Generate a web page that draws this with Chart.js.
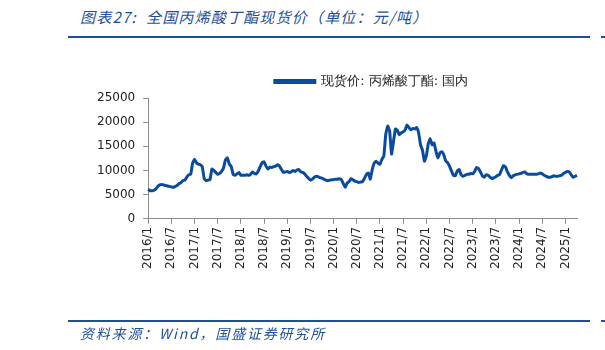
<!DOCTYPE html>
<html>
<head>
<meta charset="utf-8">
<script src="https://cdn.jsdelivr.net/npm/chart.js@4.4.1/dist/chart.umd.min.js"></script>
<style>
  body { margin: 0; background: #fff; }
  #wrap { position: relative; width: 605px; height: 350px; overflow: hidden; }
  #chart { position: absolute; left: 0; top: 0; }
  .title { position: absolute; left: 80px; top: 6px; font: italic 15px "Noto Sans CJK SC", sans-serif; letter-spacing: 1.2px; color: #1d4f9c; white-space: nowrap; }
  .source { position: absolute; left: 80px; top: 323px; font: italic 14px "Noto Sans CJK SC", sans-serif; letter-spacing: 1.8px; color: #1d4f9c; white-space: nowrap; }
  .rule { position: absolute; height: 2px; background: #1d4f9c; }
</style>
</head>
<body>
<div id="wrap">
  <div class="title">图表27:&nbsp;&nbsp;全国丙烯酸丁酯现货价（单位：元/吨）</div>
  <div class="rule" style="left:68px; top:36px; width:522px;"></div>
  <div class="rule" style="left:601px; top:36px; width:4px;"></div>
  <canvas id="chart" width="605" height="350"></canvas>
  <div class="rule" style="left:68px; top:320px; width:522px;"></div>
  <div class="rule" style="left:601px; top:320px; width:4px;"></div>
  <div class="source">资料来源：Wind，国盛证券研究所</div>
</div>

<script>
// spot price, yuan/ton, twice a month (1st and 16th)
const price2016 = [6100, 5800, 5800, 5900, 6200, 6700, 7000, 7100, 7000, 6900, 6800, 6700,
                   6600, 6500, 6700, 6900, 7300, 7500, 7900, 8000, 8600, 9100, 9200, 11500];
const price2017 = [12300, 11600, 11300, 11200, 10800, 8300, 7900, 8000, 8100, 10300, 10000, 9600,
                   9200, 9400, 9800, 10500, 12200, 12600, 11300, 10800, 9200, 9000, 9300, 9600];
const price2018 = [9000, 9000, 9000, 9100, 9000, 9200, 9700, 9400, 9300, 9900, 10800, 11600,
                   11800, 10900, 10300, 10700, 10600, 10800, 10900, 11200, 10900, 10200, 9600, 9700];
const price2019 = [9800, 9600, 9700, 10000, 9800, 10100, 10200, 9700, 9600, 9300, 8800, 8400,
                   8000, 8200, 8600, 8800, 8700, 8500, 8400, 8200, 8000, 7900, 8000, 8100];
const price2020 = [8100, 8200, 8200, 8300, 8100, 7300, 6500, 7400, 7700, 8300, 8100, 7800,
                   7700, 7500, 7600, 7700, 8400, 9200, 9500, 8200, 10200, 11500, 11900, 11500];
const price2021 = [11300, 12300, 13000, 17500, 19200, 18200, 13400, 16000, 18600, 18300, 17400, 17800,
                   18000, 18400, 19400, 18900, 18400, 18700, 18600, 18900, 17800, 15300, 14200, 11900];
const price2022 = [13000, 15500, 16600, 15300, 15700, 13900, 12600, 13600, 13900, 13300, 12000, 11600,
                   10900, 9900, 9000, 8900, 9900, 10200, 9100, 8800, 9000, 9200, 9200, 9400];
const price2023 = [9300, 9800, 10600, 10400, 9700, 8900, 8600, 9100, 9000, 8600, 8300, 8500,
                   8700, 9000, 9200, 10200, 11000, 10700, 9700, 9000, 8500, 8900, 9100, 9200];
const price2024 = [9300, 9400, 9600, 9700, 9300, 9200, 9200, 9200, 9200, 9200, 9300, 9500,
                   9300, 9000, 8800, 8600, 8600, 8700, 8900, 8800, 8800, 8900, 9000, 9400];
const price2025 = [9600, 9800, 9700, 9100, 8600, 8800, 9000];

const yTicks = [0, 5000, 10000, 15000, 20000, 25000];
const seriesName = '现货价: 丙烯酸丁酯: 国内';

const prices = [].concat(price2016, price2017, price2018, price2019, price2020,
                         price2021, price2022, price2023, price2024, price2025);

// date labels, two per month starting 2016/1/1
const dates = prices.map((v, i) => {
  const m = Math.floor(i / 2);
  const year = 2016 + Math.floor(m / 12);
  const month = (m % 12) + 1;
  return year + '/' + month + '/' + (i % 2 === 0 ? 1 : 16);
});

const axisColor = '#8c8c8c';
const font = { family: '"DejaVu Sans", sans-serif', size: 12 };

// nudge the legend a little to the right of the plot centre
const legendShift = {
  id: 'legendShift',
  afterLayout(chart) {
    chart.legend.left += 9;
    chart.legend.right += 9;
  }
};

new Chart(document.getElementById('chart'), {
  type: 'line',
  data: {
    labels: dates,
    datasets: [{
      label: seriesName,
      data: prices,
      borderColor: '#0a4ba0',
      backgroundColor: '#0a4ba0',
      borderWidth: 3,
      pointRadius: 0,
      tension: 0.1
    }]
  },
  plugins: [legendShift],
  options: {
    responsive: false,
    animation: false,
    layout: { padding: { left: 89, right: 28, top: 69, bottom: 78 } },
    plugins: {
      tooltip: { enabled: false },
      legend: {
        position: 'top',
        fullSize: false,
        labels: {
          font: { family: font.family, size: 13 },
          color: '#222',
          boxWidth: 40,
          boxHeight: 2,
          padding: 6
        }
      }
    },
    scales: {
      x: {
        type: 'category',
        offset: false,
        border: { display: true, color: axisColor, width: 1 },
        grid: { display: true, drawOnChartArea: false, drawTicks: true, tickLength: 5, color: axisColor },
        afterBuildTicks: (scale) => {
          scale.ticks = scale.ticks.filter(t => {
            const parts = dates[t.value].split('/');
            return parts[2] === '1' && (parts[1] === '1' || parts[1] === '7');
          });
        },
        ticks: {
          autoSkip: false,
          maxRotation: 90,
          minRotation: 90,
          padding: 3,
          font: font,
          color: '#222',
          callback: function (value) {
            const parts = dates[value].split('/');
            return parts[0] + '/' + parts[1];
          }
        }
      },
      y: {
        min: 0,
        max: 25000,
        border: { display: true, color: axisColor, width: 1 },
        grid: { display: true, drawOnChartArea: false, drawTicks: true, tickLength: 5, color: axisColor },
        afterBuildTicks: (scale) => {
          scale.ticks = yTicks.map(v => ({ value: v }));
        },
        ticks: {
          padding: 8,
          font: font,
          color: '#222',
          callback: (value) => String(value)
        }
      }
    }
  }
});
</script>
</body>
</html>
